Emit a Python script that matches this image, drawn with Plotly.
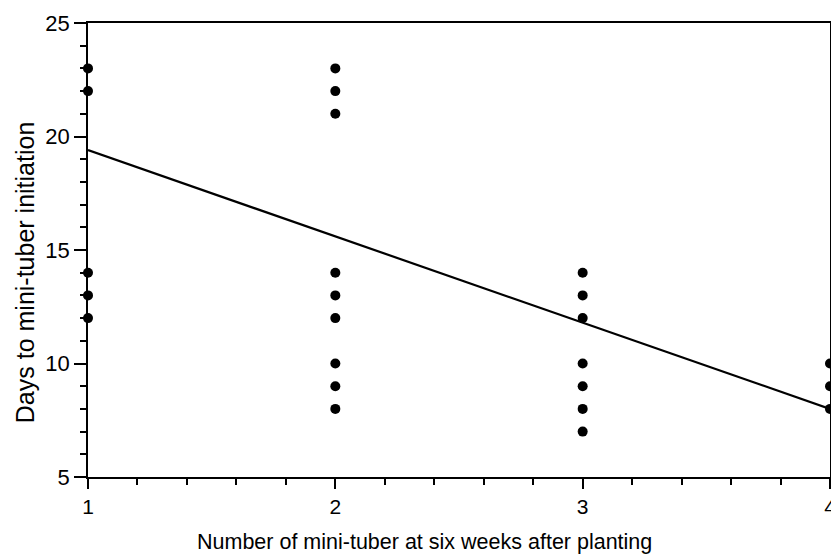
import plotly.graph_objects as go

# Data
x1 = [1, 1, 1, 1, 1]
y1 = [23, 22, 14, 13, 12]
x2 = [2, 2, 2, 2, 2, 2, 2, 2, 2]
y2 = [23, 22, 21, 14, 13, 12, 10, 9, 8]
x3 = [3, 3, 3, 3, 3, 3, 3]
y3 = [14, 13, 12, 10, 9, 8, 7]
x4 = [4, 4, 4]
y4 = [10, 9, 8]

fit_x = [1, 4]
fit_y = [19.4, 8.0]

x_ticks = [1, 2, 3, 4]
y_ticks = [5, 10, 15, 20, 25]

x_title = "Number of mini-tuber at six weeks after planting"
y_title = "Days to mini-tuber initiation"

pts_x = x1 + x2 + x3 + x4
pts_y = y1 + y2 + y3 + y4

fig = go.Figure()
fig.add_trace(go.Scatter(x=fit_x, y=fit_y, mode="lines",
                         line=dict(color="black", width=2.2), cliponaxis=False,
                         showlegend=False, hoverinfo="skip"))
fig.add_trace(go.Scatter(x=pts_x, y=pts_y, mode="markers",
                         marker=dict(color="black", size=10), cliponaxis=False,
                         showlegend=False))

font = "Liberation Sans, Arial, sans-serif"
# page body has an 8px margin, so the figure is sized 8px smaller
fig.update_layout(
    width=831, height=547,
    margin=dict(l=80, r=3, t=11, b=78),
    paper_bgcolor="white", plot_bgcolor="white",
    font=dict(family=font, color="black"),
    annotations=[
        dict(text=x_title, xref="paper", yref="paper", x=0.453, y=-0.144,
             xanchor="center", yanchor="middle", showarrow=False,
             font=dict(size=21.5, family=font, color="black")),
        dict(text=y_title, xref="paper", yref="paper", x=-0.0857, y=0.452,
             xanchor="center", yanchor="middle", showarrow=False, textangle=-90,
             font=dict(size=25, family=font, color="black")),
    ],
)
fig.update_xaxes(
    range=[1, 4], tickvals=x_ticks, ticktext=[str(v) for v in x_ticks],
    showgrid=False, zeroline=False, ticklabeloverflow="allow",
    showline=True, linecolor="black", linewidth=1.5, mirror=True,
    ticks="outside", ticklen=10, tickwidth=1.5, tickcolor="black",
    tickfont=dict(size=21),
    minor=dict(dtick=0.2, tick0=1, ticks="outside", ticklen=6, tickwidth=1.5,
               tickcolor="black", showgrid=False),
)
fig.update_yaxes(
    range=[5, 25], tickvals=y_ticks, ticktext=[str(v) for v in y_ticks],
    showgrid=False, zeroline=False, ticklabeloverflow="allow",
    showline=True, linecolor="black", linewidth=1.5, mirror=True,
    ticks="outside", ticklen=12, tickwidth=1.5, tickcolor="black",
    tickfont=dict(size=22),
    minor=dict(dtick=1, tick0=5, ticks="outside", ticklen=6, tickwidth=1.5,
               tickcolor="black", showgrid=False),
)

fig.write_html("out.html")
